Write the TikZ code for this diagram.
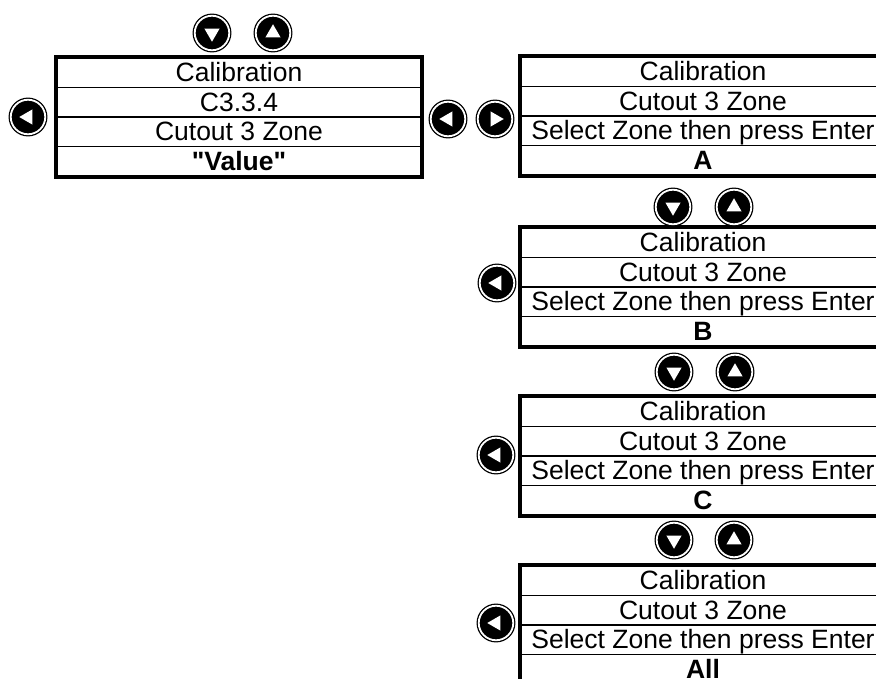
\documentclass[tikz,border=0pt]{standalone}
\usepackage{fontspec}
\setmainfont{Liberation Sans}
\usetikzlibrary{shapes.geometric}

\begin{document}
\begin{tikzpicture}[x=1pt,y=-1pt,
  cell/.style={draw,line width=1.8pt,minimum width=364pt,minimum height=29.5pt,
    inner sep=0pt,text height=19pt,text depth=1pt,font=\fontsize{26.5}{30}\selectfont},
  frame/.style={line width=3.5pt},
  key/.style={circle,fill=black,draw=black,line width=1.3pt,double=white,
    double distance=1.8pt,minimum size=34.5pt,inner sep=0pt},
  tri/.style={regular polygon,regular polygon sides=3,fill=white,inner sep=0pt,
    minimum size=17.5pt,shape border rotate=#1}]
\clip (0,0) rectangle (876,679);

% C3.3.4 screen
\node[cell] (m1) at (239,72.75) {Calibration};
\node[cell] (m2) at (239,102.25) {C3.3.4};
\node[cell] (m3) at (239,131.75) {Cutout 3 Zone};
\node[cell] (m4) at (239,161.25) {\textbf{\textquotedbl Value\textquotedbl}};
\draw[frame] (m1.north west) rectangle (m4.south east);
\node[key] (mdown) at (212,33) {};  \node[tri=180] (mdownt) at (mdown) {};
\node[key] (mup) at (273,33) {};    \node[tri=0] (mupt) at (mup) {};
\node[key] (mleft) at (28,117) {};  \node[tri=90] (mleftt) at (mleft) {};

% zone screens
\foreach \z/\t/\v in {a/57/A,b/228/B,c/397/C,d/566/All}{
  \node[cell] (\z1) at (703,{\t+14.75}) {Calibration};
  \node[cell] (\z2) at (703,{\t+44.25}) {Cutout 3 Zone};
  \node[cell] (\z3) at (703,{\t+73.75}) {Select Zone then press Enter};
  \node[cell] (\z4) at (703,{\t+103.25}) {\textbf{\v}};
  \draw[frame] (\z1.north west) rectangle (\z4.south east);
}

% keys between the screens
\node[key] (aleft) at (448,119) {};  \node[tri=90] (aleftt) at (aleft) {};
\node[key] (aright) at (495,119) {}; \node[tri=270] (arightt) at (aright) {};

\node[key] (bdown) at (673,207) {};  \node[tri=180] (bdownt) at (bdown) {};
\node[key] (bup) at (734,207) {};    \node[tri=0] (bupt) at (bup) {};
\node[key] (bleft) at (497,283) {};  \node[tri=90] (bleftt) at (bleft) {};

\node[key] (cdown) at (674,372) {};  \node[tri=180] (cdownt) at (cdown) {};
\node[key] (cup) at (735,372) {};    \node[tri=0] (cupt) at (cup) {};
\node[key] (cleft) at (496,455) {};  \node[tri=90] (cleftt) at (cleft) {};

\node[key] (ddown) at (674,540) {};  \node[tri=180] (ddownt) at (ddown) {};
\node[key] (dup) at (734,540) {};    \node[tri=0] (dupt) at (dup) {};
\node[key] (dleft) at (496,623) {};  \node[tri=90] (dleftt) at (dleft) {};
\end{tikzpicture}
\end{document}
